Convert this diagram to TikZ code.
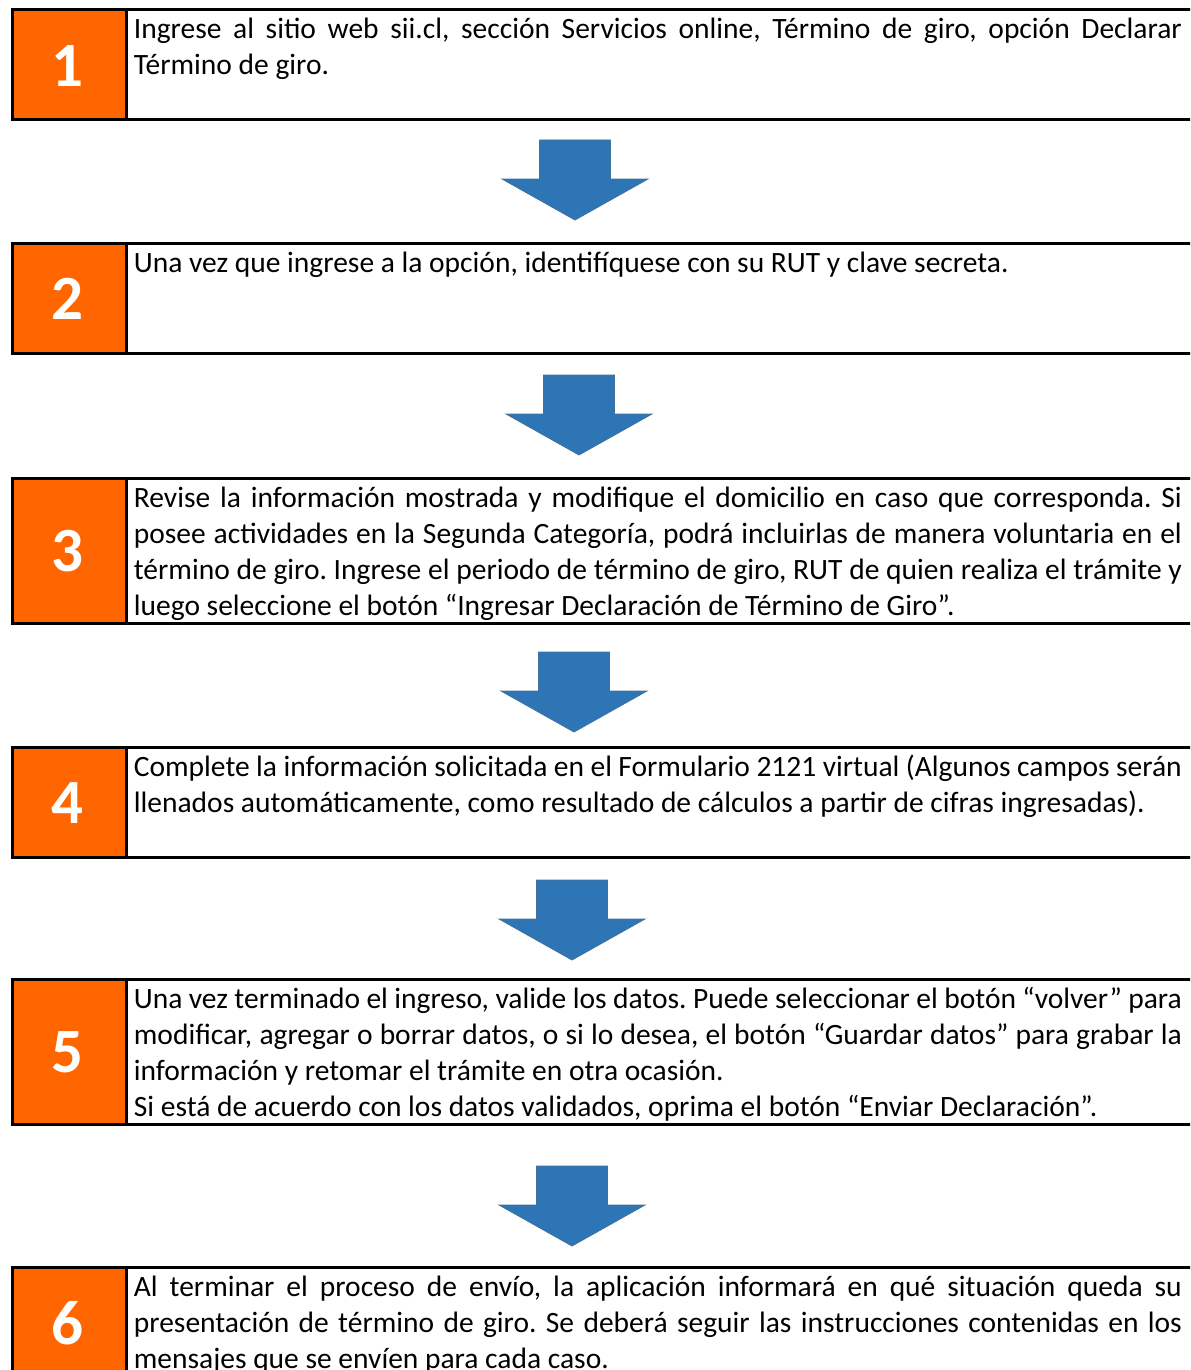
\documentclass[tikz,border=0pt]{standalone}
\usepackage{fontspec}
\setmainfont{Carlito}
\definecolor{stepor}{HTML}{FF6600}
\definecolor{arrblue}{HTML}{2E75B6}
\definecolor{arredge}{HTML}{41719C}
\newlength\textw
\setlength\textw{524pt}
\newcommand\jl[1]{\makebox[\textw][s]{\spaceskip=0pt\relax\xspaceskip=0pt\relax #1}}
\frenchspacing
\begin{document}
\begin{tikzpicture}[x=0.5pt,y=-0.5pt,
  numbox/.style={draw=black, line width=1.5pt, fill=stepor, anchor=north west, inner sep=0pt, minimum width=57pt},
  stepframe/.style={draw=black, line width=1.5pt, anchor=north west, inner sep=0pt, minimum width=700pt},
  numtext/.style={text=white, font=\fontsize{31.5}{36}\selectfont\bfseries},
  bodytext/.style={anchor=base west, inner sep=0pt, text width=\textw, align=left, font=\fontsize{14.75}{18}\selectfont\frenchspacing},
  blockarr/.style={fill=arrblue, draw=arredge, line width=0.4pt}]
\useasboundingbox (0,0) rectangle (1190,1370);
\clip (0,0) rectangle (1190,1370);
\newcommand\stepbox[5]{%
  \node[numbox, minimum height={(#4-#3-3)*0.5pt}] (o#1) at (10.5,#3+1.5) {};
  \node[stepframe, minimum height={(#4-#3-3)*0.5pt}] (b#1) at (10.5,#3+1.5) {};
  \node[numtext] (n#1) at (67.5,{(#3+#4)/2+2.5}) {#2};
  \node[bodytext] (t#1) at (133.5,#3+32) {\spaceskip=0pt\relax\xspaceskip=0pt\relax #5};
}
\newcommand\blockarrow[3]{%
  \coordinate (#1) at (#2,#3);
  \path[blockarr] (#2-35.5,#3) -- (#2+35.5,#3) -- (#2+35.5,#3+39) -- (#2+73,#3+39) -- (#2,#3+80) -- (#2-73,#3+39) -- (#2-35.5,#3+39) -- cycle;
}
\stepbox{1}{1}{7}{120}{\jl{Ingrese al sitio web sii.cl, sección Servicios online, Término de giro, opción Declarar}\\Término de giro.}
\stepbox{2}{2}{240}{353}{Una vez que ingrese a la opción, identifíquese con su RUT y clave secreta.}
\stepbox{3}{3}{475}{623}{\jl{Revise la información mostrada y modifique el domicilio en caso que corresponda. Si}\\\jl{posee actividades en la Segunda Categoría, podrá incluirlas de manera voluntaria en el}\\\jl{término de giro. Ingrese el periodo de término de giro, RUT de quien realiza el trámite y}\\luego seleccione el botón “Ingresar Declaración de Término de Giro”.}
\stepbox{4}{4}{744}{857}{\jl{Complete la información solicitada en el Formulario 2121 virtual (Algunos campos serán}\\llenados automáticamente, como resultado de cálculos a partir de cifras ingresadas).}
\stepbox{5}{5}{976}{1124}{\jl{Una vez terminado el ingreso, valide los datos. Puede seleccionar el botón “volver” para}\\\jl{modificar, agregar o borrar datos, o si lo desea, el botón “Guardar datos” para grabar la}\\información y retomar el trámite en otra ocasión.\\Si está de acuerdo con los datos validados, oprima el botón “Enviar Declaración”.}
\stepbox{6}{6}{1264}{1377}{\jl{Al terminar el proceso de envío, la aplicación informará en qué situación queda su}\\\jl{presentación de término de giro. Se deberá seguir las instrucciones contenidas en los}\\mensajes que se envíen para cada caso.}
\blockarrow{a1}{575}{140}
\blockarrow{a2}{579}{375}
\blockarrow{a3}{574}{652}
\blockarrow{a4}{572}{880}
\blockarrow{a5}{572}{1166}
\end{tikzpicture}
\end{document}
